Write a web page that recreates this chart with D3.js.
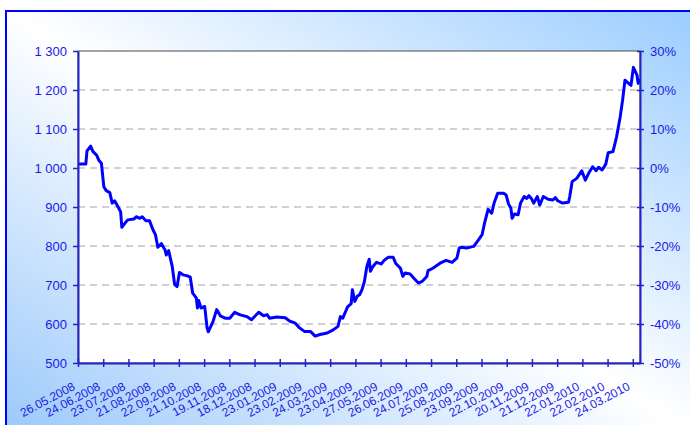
<!DOCTYPE html>
<html>
<head>
<meta charset="utf-8">
<script src="https://cdn.jsdelivr.net/npm/d3@7"></script>
<style>
body { margin: 0; background: #fff; }
svg { display: block; font-family: "Liberation Sans", Arial, sans-serif; }
</style>
</head>
<body>
<div id="chart"></div>
<script>
// category labels, one every 21 trading days
var dateLabels = ["26.05.2008", "24.06.2008", "23.07.2008", "21.08.2008", "22.09.2008",
    "21.10.2008", "19.11.2008", "18.12.2008", "23.01.2009", "23.02.2009", "24.03.2009",
    "23.04.2009", "27.05.2009", "26.06.2009", "24.07.2009", "25.08.2009", "23.09.2009",
    "22.10.2009", "20.11.2009", "21.12.2009", "22.01.2010", "22.02.2010", "24.03.2010"];
var labelStep = 21;
var dayCount = 468;

// trading day number and index value
var days = [0, 6, 7, 10, 12, 15, 17, 19, 21, 23, 26, 28, 30, 32, 35, 36, 39, 41, 46, 48,
    51, 53, 56, 59, 62, 64, 66, 69, 72, 73, 75, 78, 80, 82, 84, 87, 90, 93, 95, 98,
    99, 100, 102, 105, 107, 108, 112, 115, 118, 122, 126, 130, 134, 140, 144, 150, 154, 157, 159, 165,
    172, 176, 180, 184, 188, 193, 197, 201, 207, 212, 216, 218, 220, 224, 227, 228, 230, 232, 234, 236,
    238, 240, 242, 243, 245, 248, 252, 255, 258, 262, 264, 268, 270, 272, 276, 279, 283, 286, 290, 291,
    295, 301, 306, 311, 315, 317, 319, 323, 329, 333, 336, 338, 341, 344, 346, 349, 354, 356, 358, 360,
    361, 363, 366, 368, 371, 373, 375, 377, 379, 382, 384, 387, 391, 395, 397, 399, 403, 408, 409, 411,
    415, 419, 422, 425, 428, 431, 433, 436, 439, 441, 445, 448, 451, 453, 455, 458, 460, 462, 465, 466, 467];
var values = [1010, 1010, 1044, 1056, 1042, 1033, 1019, 1012, 952, 942, 937, 910, 916, 905, 888, 848, 860, 867, 869, 875,
    871, 875, 865, 865, 841, 829, 797, 806, 790, 777, 788, 747, 701, 696, 732, 726, 724, 720, 679, 667,
    641, 660, 641, 645, 590, 580, 607, 637, 621, 615, 615, 630, 624, 619, 611, 630, 621, 624, 615, 618,
    616, 607, 603, 590, 581, 581, 569, 573, 577, 585, 594, 619, 615, 644, 652, 688, 658, 671, 675, 688,
    709, 747, 766, 735, 747, 758, 754, 765, 771, 771, 756, 743, 722, 731, 728, 718, 705, 709, 722, 737,
    743, 756, 763, 758, 769, 795, 797, 795, 799, 816, 829, 858, 894, 884, 910, 935, 935, 931, 908, 897,
    871, 882, 880, 910, 927, 922, 929, 922, 910, 927, 905, 927, 920, 918, 924, 916, 910, 912, 927, 965,
    974, 993, 969, 988, 1003, 993, 1002, 995, 1010, 1039, 1042, 1080, 1131, 1174, 1225, 1217, 1212, 1258, 1238, 1217, 1230];

var leftTicks = [500, 600, 700, 800, 900, 1000, 1100, 1200, 1300];
var rightTicks = [-0.5, -0.4, -0.3, -0.2, -0.1, 0, 0.1, 0.2, 0.3];
var baseValue = 1000;

var W = 690, H = 425;
var plot = {left: 78, right: 640, top: 51, bottom: 363};
var axisColor = "#2323c8", textColor = "#1a1ae6";

var svg = d3.select("#chart").append("svg")
    .attr("width", W)
    .attr("height", H);

// chart frame with a diagonal gradient, cut by the window
var grad = svg.append("defs").append("linearGradient")
    .attr("id", "bg")
    .attr("x1", 0).attr("y1", 1)
    .attr("x2", 1).attr("y2", 0);
grad.append("stop").attr("offset", 0).attr("stop-color", "#99c8fb");
grad.append("stop").attr("offset", 0.5).attr("stop-color", "#ffffff");
grad.append("stop").attr("offset", 1).attr("stop-color", "#99ccff");

svg.append("rect")
    .attr("x", 6).attr("y", 11)
    .attr("width", 700).attr("height", 430)
    .attr("fill", "url(#bg)")
    .attr("stroke", "#0000ff")
    .attr("stroke-width", 2);

// plot area
svg.append("rect")
    .attr("x", plot.left).attr("y", plot.top)
    .attr("width", plot.right - plot.left)
    .attr("height", plot.bottom - plot.top)
    .attr("fill", "#fff")
    .attr("stroke", "#4a4a4a")
    .attr("stroke-width", 1);

var x = d3.scaleLinear()
    .domain([0, dayCount])
    .range([plot.left, plot.right]);

var y = d3.scaleLinear()
    .domain([500, 1300])
    .range([plot.bottom, plot.top]);

var y2 = d3.scaleLinear()
    .domain([500 / baseValue - 1, 1300 / baseValue - 1])
    .range([plot.bottom, plot.top]);

// dashed gridlines
svg.append("g").selectAll("line")
    .data(leftTicks.filter(function(d) { return d > 500 && d < 1300; }))
    .enter().append("line")
    .attr("x1", plot.left).attr("x2", plot.right)
    .attr("y1", function(d) { return y(d); })
    .attr("y2", function(d) { return y(d); })
    .attr("stroke", "#a3a3a3")
    .attr("stroke-dasharray", "7,5");

// the index line
var line = d3.line()
    .x(function(d, i) { return x(days[i] + 0.5); })
    .y(function(d) { return y(d); });

svg.append("path")
    .datum(values)
    .attr("fill", "none")
    .attr("stroke", "#0000ff")
    .attr("stroke-width", 3)
    .attr("stroke-linejoin", "round")
    .attr("d", line);

var fmtLeft = d3.formatLocale({decimal: ",", thousands: " ", grouping: [3], currency: ["", ""]}).format(",");

// left axis
var gl = svg.append("g")
    .attr("transform", "translate(" + plot.left + ",0)")
    .call(d3.axisLeft(y).tickValues(leftTicks).tickFormat(fmtLeft).tickSize(5).tickSizeOuter(0).tickPadding(6));

// right axis
var gr = svg.append("g")
    .attr("transform", "translate(" + plot.right + ",0)")
    .call(d3.axisRight(y2).tickValues(rightTicks)
        .tickFormat(function(d) { return Math.round(d * 100) + "%"; })
        .tickSize(4).tickSizeOuter(0).tickPadding(6));
gr.selectAll(".tick line").attr("x1", -3);

// bottom axis, ticks between categories
var tickDays = dateLabels.map(function(d, i) { return i * labelStep; });
var gb = svg.append("g")
    .attr("transform", "translate(0," + plot.bottom + ")")
    .call(d3.axisBottom(x).tickValues(tickDays).tickFormat("").tickSize(4).tickSizeOuter(0));
gb.selectAll(".tick line").attr("y1", -4);

[gl, gr, gb].forEach(function(g) {
    g.select(".domain").attr("stroke", axisColor).attr("stroke-width", 2);
    g.selectAll(".tick line").attr("stroke", axisColor).attr("stroke-width", 1.5);
    g.selectAll(".tick text").attr("fill", textColor).attr("font-size", 13)
        .attr("font-family", "Liberation Sans, Arial, sans-serif");
});

// rotated date labels
svg.append("g").selectAll("text")
    .data(dateLabels)
    .enter().append("text")
    .attr("transform", function(d, i) {
        return "translate(" + (x(tickDays[i]) - 2) + "," + (plot.bottom + 26) + ") rotate(-28)";
    })
    .attr("text-anchor", "end")
    .attr("font-size", 12)
    .attr("fill", textColor)
    .text(function(d) { return d; });
</script>
</body>
</html>
